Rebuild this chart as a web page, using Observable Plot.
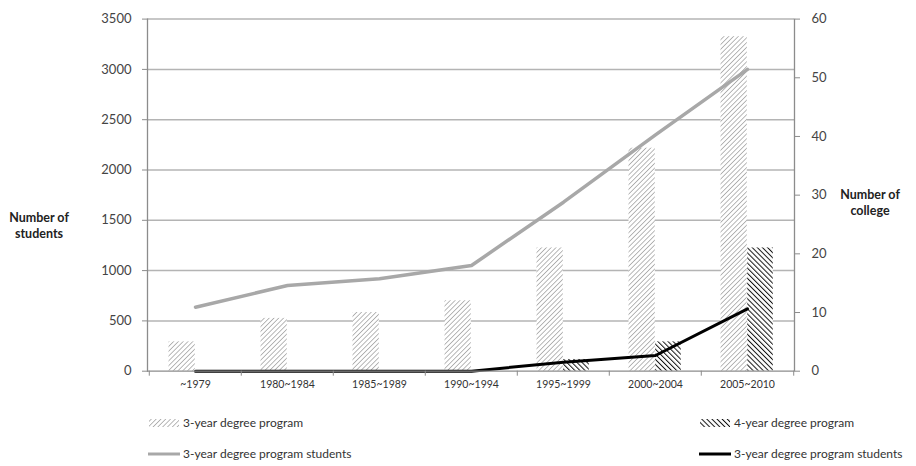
<!DOCTYPE html>
<html>
<head>
<meta charset="utf-8">
<script src="https://cdn.jsdelivr.net/npm/d3@7"></script>
<script src="https://cdn.jsdelivr.net/npm/@observablehq/plot@0.6"></script>
<style>
  body { margin: 0; background: #fff; font-family: Lato, "Noto Sans", sans-serif; }
  #wrap { position: relative; width: 916px; height: 466px; }
  #chart { position: absolute; left: 0; top: 0; }
  .leg { position: absolute; font-size: 12px; color: #333; display: flex; align-items: center; white-space: nowrap; }
  .leg svg { margin-right: 3px; }
  .ylab { position: absolute; font-weight: bold; font-size: 12.5px; color: #222; text-align: center; line-height: 16px; }
</style>
</head>
<body>
<div id="wrap">
  <div id="chart"></div>
</div>
<script>
const periods = ["~1979", "1980~1984", "1985~1989", "1990~1994", "1995~1999", "2000~2004", "2005~2010"];
// bars (right axis units: number of college)
const threeYearProgram = [5, 9, 10, 12, 21, 38, 57];
const fourYearProgram  = [0, 0, 0, 0, 2, 5, 21];
// lines (left axis units: number of students)
const threeYearStudents = [636, 852, 918, 1051, 1680, 2350, 3000];
const otherStudents     = [0, 0, 0, 0, 90, 156, 620];
const leftTicks  = [0, 500, 1000, 1500, 2000, 2500, 3000, 3500];
const rightTicks = [0, 10, 20, 30, 40, 50, 60];

const leftMax = 3500, rightMax = 60;
const toLeft = v => v * leftMax / rightMax;

const bars3 = periods.map((p, i) => ({period: p, value: threeYearProgram[i]}));
const bars4 = periods.map((p, i) => ({period: p, value: fourYearProgram[i]}));
const line3 = periods.map((p, i) => ({period: p, value: threeYearStudents[i]}));
const line4 = periods.map((p, i) => ({period: p, value: otherStudents[i]}));

const W = 916, H = 400;
const mL = 147, mR = 122, mT = 18.6, mB = 29.3;
const band = (W - mL - mR) / periods.length;
const half = band / 2;

const chart = Plot.plot({
  width: W, height: H,
  marginLeft: mL, marginRight: mR, marginTop: mT, marginBottom: mB,
  style: {fontFamily: "Lato, 'Noto Sans', sans-serif", background: "#fff", overflow: "visible"},
  x: {type: "band", domain: periods, padding: 0, axis: null},
  y: {domain: [0, leftMax], axis: null},
  marks: [
    Plot.ruleY(leftTicks.filter(d => d > 0), {stroke: "#b4b4b4", strokeWidth: 1.5}),
    Plot.barY(bars3, {x: "period", y: d => toLeft(d.value), fill: "url(#hatch3)", insetLeft: half - 26.7, insetRight: half}),
    Plot.barY(bars4, {x: "period", y: d => toLeft(d.value), fill: "url(#hatch4)", insetLeft: half, insetRight: half - 26}),
    Plot.line(line3, {x: "period", y: "value", stroke: "#a8a8a8", strokeWidth: 3.5, strokeLinejoin: "round"}),
    Plot.line(line4, {x: "period", y: "value", stroke: "#000", strokeWidth: 3, strokeLinejoin: "round"}),
    // axis lines
    Plot.frame({anchor: "left", stroke: "#8c8c8c", strokeWidth: 1.3}),
    Plot.frame({anchor: "right", stroke: "#8c8c8c", strokeWidth: 1.3}),
    Plot.ruleY([0], {stroke: "#8c8c8c", strokeWidth: 1.3}),
    // left axis
    Plot.axisY(leftTicks, {anchor: "left", tickSize: 5, tickPadding: 11, fontSize: 13, color: "#444", stroke: "#8c8c8c", tickFormat: d => String(d), label: null}),
    // right axis
    Plot.axisY(rightTicks.map(toLeft), {anchor: "right", tickSize: 5, tickPadding: 12, fontSize: 13, color: "#444", stroke: "#8c8c8c", tickFormat: d => String(Math.round(d * rightMax / leftMax)), label: null}),
    // x labels
    Plot.axisX(periods, {anchor: "bottom", tickSize: 0, tickPadding: 9, fontSize: 10.5, color: "#333", label: null}),
    // x tick marks at band boundaries
    Plot.axisX(periods, {anchor: "bottom", tickSize: 5, dx: -half, stroke: "#8c8c8c", tickFormat: () => "", label: null}),
    Plot.axisX([periods[periods.length - 1]], {anchor: "bottom", tickSize: 5, dx: half, stroke: "#8c8c8c", tickFormat: () => "", label: null})
  ]
});

const ns = "http://www.w3.org/2000/svg";
function addDefs(svg) {
  const defs = document.createElementNS(ns, "defs");
  defs.innerHTML = `
    <pattern id="hatch3" patternUnits="userSpaceOnUse" width="3.4" height="3.4" patternTransform="rotate(45)">
      <rect width="3.4" height="3.4" fill="#fff"/>
      <line x1="0" y1="0" x2="0" y2="3.4" stroke="#9a9a9a" stroke-width="1.4"/>
    </pattern>
    <pattern id="hatch4" patternUnits="userSpaceOnUse" width="3.6" height="3.6" patternTransform="rotate(-45)">
      <rect width="3.6" height="3.6" fill="#fff"/>
      <line x1="0" y1="0" x2="0" y2="3.6" stroke="#111" stroke-width="2"/>
    </pattern>`;
  svg.insertBefore(defs, svg.firstChild);
}
addDefs(chart);
document.getElementById("chart").appendChild(chart);

const wrap = document.getElementById("wrap");
function label(html, left, top, width) {
  const d = document.createElement("div");
  d.className = "ylab";
  d.style.left = left + "px"; d.style.top = top + "px"; d.style.width = width + "px";
  d.innerHTML = html;
  wrap.appendChild(d);
}
label("Number of<br>students", 0, 210, 78);
label("Number of<br>college", 830, 187, 80);

function swatch(kind) {
  const s = document.createElementNS(ns, "svg");
  s.setAttribute("width", 32); s.setAttribute("height", 12);
  if (kind === "h3" || kind === "h4") {
    const r = document.createElementNS(ns, "rect");
    r.setAttribute("x", 1); r.setAttribute("y", 2); r.setAttribute("width", 30); r.setAttribute("height", 8);
    r.setAttribute("fill", kind === "h3" ? "url(#hatch3)" : "url(#hatch4)");
    s.appendChild(r);
  } else {
    const l = document.createElementNS(ns, "line");
    l.setAttribute("x1", 0); l.setAttribute("x2", 32); l.setAttribute("y1", 6); l.setAttribute("y2", 6);
    l.setAttribute("stroke", kind === "l3" ? "#a8a8a8" : "#000");
    l.setAttribute("stroke-width", 3);
    s.appendChild(l);
  }
  return s;
}
function legend(kind, text, left, top) {
  const d = document.createElement("div");
  d.className = "leg";
  d.style.left = left + "px"; d.style.top = top + "px";
  d.appendChild(swatch(kind));
  d.appendChild(document.createTextNode(text));
  wrap.appendChild(d);
}
legend("h3", "3-year degree program", 148, 415);
legend("h4", "4-year degree program", 699, 415);
legend("l3", "3-year degree program students", 148, 446);
legend("l4", "3-year degree program students", 699, 446);
</script>
</body>
</html>
